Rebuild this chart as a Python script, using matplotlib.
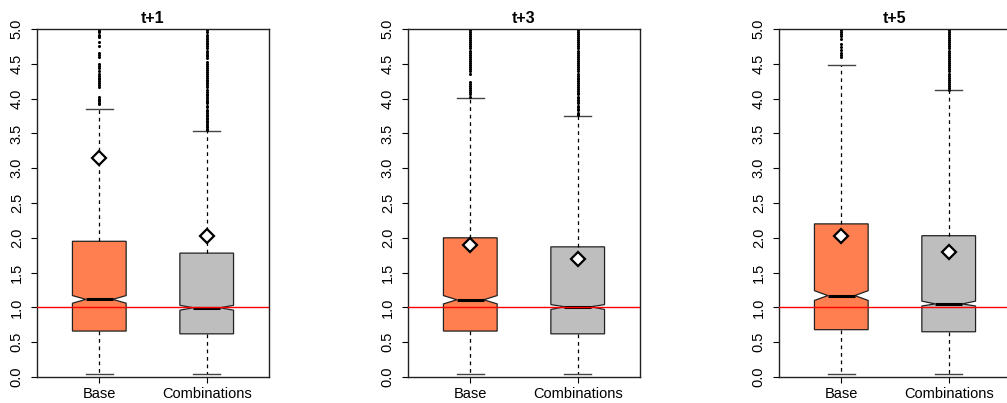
import numpy as np
import matplotlib
matplotlib.use("Agg")
import matplotlib.pyplot as plt

plt.rcParams['font.family'] = ['Liberation Sans', 'DejaVu Sans']

titles = ["t+1", "t+3", "t+5"]
groups = ["Base", "Combinations"]
colors = ["#FF7F50", "#BEBEBE"]

# per panel: [Base, Combinations]
q1 = [[0.66, 0.62], [0.66, 0.62], [0.68, 0.65]]
med = [[1.115, 0.995], [1.11, 1.01], [1.17, 1.05]]
q3 = [[1.95, 1.78], [2.00, 1.87], [2.20, 2.03]]
whislo = [[0.04, 0.04], [0.04, 0.04], [0.04, 0.04]]
whishi = [[3.845, 3.53], [4.01, 3.75], [4.48, 4.12]]
cilo = [[1.06, 0.96], [1.05, 0.97], [1.10, 1.02]]
cihi = [[1.17, 1.03], [1.17, 1.04], [1.24, 1.09]]
means = [[3.14, 2.03], [1.90, 1.70], [2.03, 1.80]]

out_t1_base = [3.92, 3.94, 3.96, 3.98, 4.00, 4.02, 4.16, 4.19, 4.22, 4.25, 4.28, 4.30,
               4.33, 4.36, 4.40, 4.44, 4.47, 4.50, 4.60, 4.63, 4.66, 4.76, 4.82, 4.88,
               4.90, 4.92, 4.95, 4.97, 4.99]
out_t1_comb = [3.55, 3.57, 3.59, 3.61, 3.63, 3.66, 3.68, 3.70, 3.72, 3.75, 3.77, 3.79,
               3.82, 3.84, 3.88, 3.90, 3.93, 3.95, 3.97, 4.00, 4.02, 4.05, 4.07, 4.10,
               4.13, 4.17, 4.19, 4.22, 4.25, 4.27, 4.30, 4.33, 4.36, 4.38, 4.41, 4.44,
               4.47, 4.50, 4.53, 4.58, 4.61, 4.63, 4.66, 4.69, 4.72, 4.75, 4.78, 4.80,
               4.83, 4.86, 4.89, 4.92, 4.95, 4.98]
out_t3_base = [4.03, 4.06, 4.09, 4.12, 4.15, 4.18, 4.21, 4.24, 4.36, 4.39, 4.42, 4.45,
               4.48, 4.51, 4.54, 4.57, 4.60, 4.63, 4.66, 4.69, 4.72, 4.75, 4.78, 4.81,
               4.84, 4.87, 4.90, 4.93, 4.96, 4.99]
out_t3_comb = [3.76, 3.78, 3.80, 3.83, 3.85, 3.88, 3.90, 3.93, 3.95, 3.98, 4.01, 4.03,
               4.06, 4.08, 4.11, 4.14, 4.16, 4.19, 4.22, 4.25, 4.28, 4.30, 4.33, 4.36,
               4.39, 4.42, 4.45, 4.48, 4.51, 4.54, 4.57, 4.60, 4.63, 4.66, 4.69, 4.72,
               4.75, 4.78, 4.81, 4.84, 4.87, 4.90, 4.93, 4.96, 4.99]
out_t5_base = [4.60, 4.62, 4.66, 4.70, 4.74, 4.78, 4.85, 4.90, 4.93, 4.96, 4.99]
out_t5_comb = [4.13, 4.15, 4.18, 4.21, 4.24, 4.27, 4.30, 4.33, 4.36, 4.39, 4.42, 4.45,
               4.48, 4.51, 4.54, 4.57, 4.60, 4.63, 4.66, 4.69, 4.72, 4.75, 4.78, 4.81,
               4.84, 4.87, 4.90, 4.93, 4.96, 4.99]
outliers = [[out_t1_base, out_t1_comb], [out_t3_base, out_t3_comb], [out_t5_base, out_t5_comb]]

yticks = [0.0, 0.5, 1.0, 1.5, 2.0, 2.5, 3.0, 3.5, 4.0, 4.5, 5.0]

W, H = 1007, 403
fig = plt.figure(figsize=(W / 100, H / 100), dpi=100)
lefts = [37, 408, 779]
ax_w, ax_top, ax_bot = 232, 29, 377

for p in range(3):
    ax = fig.add_axes([lefts[p] / W, 1 - ax_bot / H, ax_w / W, (ax_bot - ax_top) / H])
    stats = []
    for g in range(2):
        stats.append(dict(med=med[p][g], q1=q1[p][g], q3=q3[p][g],
                          whislo=whislo[p][g], whishi=whishi[p][g],
                          cilo=cilo[p][g], cihi=cihi[p][g], mean=means[p][g],
                          fliers=np.array(outliers[p][g]), label=groups[g]))
    bp = ax.bxp(stats, positions=[1, 2], widths=0.5, capwidths=0.25, shownotches=True,
                patch_artist=True, showmeans=True,
                boxprops=dict(edgecolor="#222222", linewidth=0.9),
                whiskerprops=dict(color="black", linewidth=0.9, linestyle=(0, (3, 3))),
                capprops=dict(color="#444444", linewidth=1.0),
                medianprops=dict(color="black", linewidth=2.2, solid_capstyle="butt", zorder=4),
                meanprops=dict(marker="D", markerfacecolor="white", markeredgecolor="black",
                               markeredgewidth=1.6, markersize=7, zorder=6),
                flierprops=dict(marker="o", markerfacecolor="black", markeredgecolor="none",
                                markersize=2.2, linestyle="none"))
    for patch, c in zip(bp["boxes"], colors):
        patch.set_facecolor(c)
    ax.axhline(1.0, color="red", linewidth=1.0, zorder=5)
    ax.set_xlim(0.42, 2.58)
    ax.set_ylim(0, 5)
    ax.set_yticks(yticks)
    ax.set_yticklabels([f"{v:.1f}" for v in yticks], rotation=90, va="center", fontsize=10.5)
    ax.set_xticks([1, 2])
    ax.set_xticklabels(groups, fontsize=10.5)
    ax.tick_params(axis="y", length=4.5, width=0.8, pad=5)
    ax.tick_params(axis="x", length=4.5, width=0.8, pad=2.5)
    for s in ax.spines.values():
        s.set_color("#222222")
        s.set_linewidth(1.0)
    ax.set_title(titles[p], fontsize=11.5, fontweight="bold", pad=4)

fig.savefig("out.png", dpi=100)
